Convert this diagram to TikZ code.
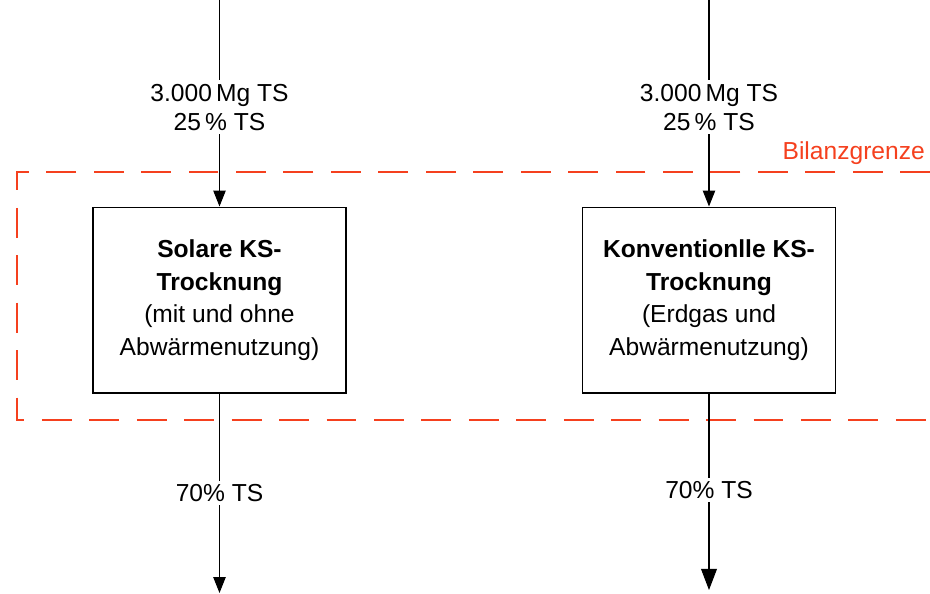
\documentclass[tikz,border=0pt]{standalone}
\usepackage{fontspec}
\setmainfont{Liberation Sans}
\usepackage{tikz}
\usetikzlibrary{arrows.meta, positioning}
\definecolor{grenzred}{HTML}{F5401E}

\begin{document}
\begin{tikzpicture}[
    x=0.02cm, y=-0.02cm,
    font=\fontsize{14}{18.5}\selectfont,
    block/.style={rectangle, draw=black, line width=0.6pt, fill=white, align=center, minimum width=5.06cm, minimum height=3.72cm, inner sep=0pt},
    flowlabel/.style={fill=white, align=center, inner sep=2pt, font=\fontsize{14}{16.8}\selectfont},
    arrow/.style={-{Triangle[length=9pt, width=7pt]}, line width=0.6pt, draw=black},
    grenze/.style={draw=grenzred, line width=0.6pt, dash pattern=on 17pt off 10pt}
]
\useasboundingbox (0,0) rectangle (930,593);
% system boundary
\draw[grenze] (930,172) -- (17,172) -- (17,420) -- (930,420);
\node[text=grenzred, anchor=east] (grenztext) at (931,153) {Bilanzgrenze};
% drying units
\node[block] (solar) at (219.5,300) {\textbf{Solare KS-}\\\textbf{Trocknung}\\(mit und ohne\\Abwärmenutzung)};
\node[block] (konv) at (709,300) {\textbf{Konventionlle KS-}\\\textbf{Trocknung}\\(Erdgas und\\Abwärmenutzung)};
% in and out
\coordinate (solarin) at (219.5,0);
\coordinate (konvin) at (709,0);
\coordinate (solarout) at (219.5,593);
\coordinate (konvout) at (709,590);
\draw[arrow] (solarin) -- node[flowlabel, pos=0.52] {3.000\,Mg TS\\25\,\% TS} (solar);
\draw[arrow] (konvin) -- node[flowlabel, pos=0.52] {3.000\,Mg TS\\25\,\% TS} (konv);
\draw[arrow] (solar) -- node[flowlabel] {70\% TS} (solarout);
\draw[arrow, -{Triangle[length=12pt, width=9pt]}] (konv) -- node[flowlabel, pos=0.49] {70\% TS} (konvout);
\end{tikzpicture}
\end{document}
